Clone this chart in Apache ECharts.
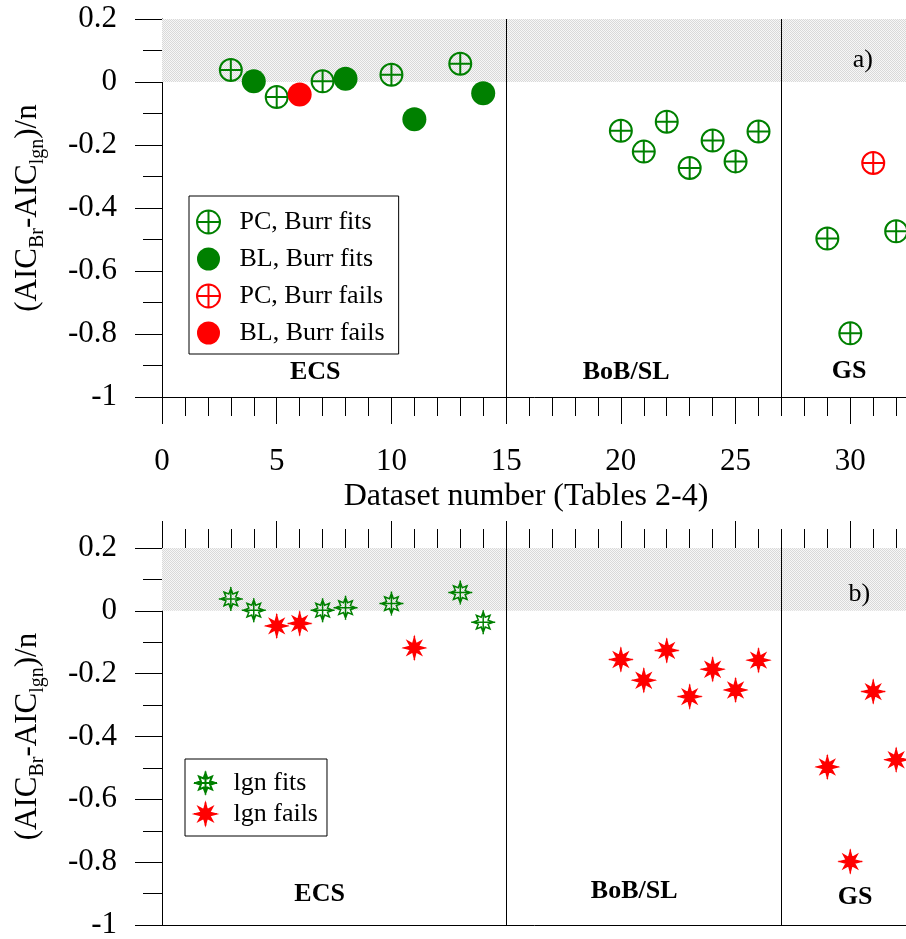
<!DOCTYPE html>
<html>
<head>
<meta charset="utf-8">
<script src="https://cdn.jsdelivr.net/npm/echarts@6/dist/echarts.min.js"></script>
<style>
  html, body { margin: 0; padding: 0; background: #fff; }
  #chart { width: 906px; height: 939px; }
</style>
</head>
<body>
<div id="chart"></div>
<script>
// Dataset numbers (Tables 2-4)
const datasetNumbers = [3, 4, 5, 6, 7, 8, 10, 11, 13, 14, 20, 21, 22, 23, 24, 25, 26, 29, 30, 31, 32];
// (AIC_Br - AIC_lgn)/n for each dataset
const aicDiff = [0.038, 0.002, -0.048, -0.040, 0.002, 0.010, 0.023, -0.118, 0.058, -0.036,
                 -0.155, -0.221, -0.126, -0.273, -0.186, -0.252, -0.157,
                 -0.497, -0.798, -0.257, -0.474];
// Sampling type of each dataset
const method = ['PC', 'BL', 'PC', 'BL', 'PC', 'BL', 'PC', 'BL', 'PC', 'BL',
                'PC', 'PC', 'PC', 'PC', 'PC', 'PC', 'PC',
                'PC', 'PC', 'PC', 'PC'];
// 1 = Burr fit accepted, 0 = Burr fit rejected
const burrFits = [1, 1, 1, 0, 1, 1, 1, 1, 1, 1,
                  1, 1, 1, 1, 1, 1, 1,
                  1, 1, 0, 1];
// 1 = lgn fit accepted, 0 = lgn fit rejected
const lgnFits = [1, 1, 0, 0, 1, 1, 1, 0, 1, 1,
                 0, 0, 0, 0, 0, 0, 0,
                 0, 0, 0, 0];
// Regions and the dataset numbers separating them
const regionNames = ['ECS', 'BoB/SL', 'GS'];
const regionBounds = [15, 27];
const panelTags = ['a)', 'b)'];
// Axis ranges and tick steps
const xMin = 0, xMax = 35, xStep = 5;
const yMin = -1, yMax = 0.2, yStep = 0.2;
const xTitle = 'Dataset number (Tables 2-4)';

const SERIF = 'Liberation Serif';
const GREEN = '#008000';
const RED = '#ff0000';

const pick = (test) => datasetNumbers
  .map((x, i) => test(i) ? [x, aicDiff[i]] : null)
  .filter(Boolean);

// Marker shapes
const crossCircle = 'path://M0,-10A10,10,0,1,1,0,10A10,10,0,1,1,0,-10ZM-10,0L10,0M0,-10L0,10';
function starPath(inner) {
  let d = '';
  for (let k = 0; k < 16; k++) {
    const a = k * Math.PI / 8 - Math.PI / 2;
    const r = k % 2 === 1 ? inner : (k % 4 === 0 ? 8.6 : 8.0);
    d += (k === 0 ? 'M' : 'L') + (r * Math.cos(a)).toFixed(2) + ',' + (r * Math.sin(a)).toFixed(2);
  }
  return 'path://' + d + 'ZM-10,0L10,0M0,-10L0,10';
}
const hollowStar = starPath(4.4);
const solidStar = starPath(3.6);

// Light stippled fill for the positive band
function stipple() {
  const c = document.createElement('canvas');
  c.width = 2; c.height = 2;
  const g = c.getContext('2d');
  g.fillStyle = '#f7f7f7'; g.fillRect(0, 0, 2, 2);
  g.fillStyle = '#d9d9d9'; g.fillRect(0, 0, 1, 1); g.fillRect(1, 1, 1, 1);
  return { image: c, repeat: 'repeat' };
}
const bandFill = stipple();

const yName = '{m|(AIC}{s|Br}{m|-AIC}{s|lgn}{m|)/n}';

function yAxisFor(gridIndex) {
  return {
    type: 'value', gridIndex, min: yMin, max: yMax, interval: yStep,
    name: yName, nameLocation: 'middle', nameRotate: 90, nameGap: 114,
    nameTextStyle: {
      color: '#000', fontFamily: SERIF,
      rich: {
        m: { fontFamily: SERIF, fontSize: 31, lineHeight: 40, color: '#000' },
        s: { fontFamily: SERIF, fontSize: 20, lineHeight: 12, verticalAlign: 'bottom', color: '#000' }
      }
    },
    axisLine: { show: true, lineStyle: { color: '#000', width: 1 } },
    axisTick: { show: true, inside: false, length: 27, lineStyle: { color: '#000' } },
    minorTick: { show: true, splitNumber: 2, length: 19, lineStyle: { color: '#000' } },
    axisLabel: { margin: 45, color: '#000', fontFamily: SERIF, fontSize: 31 },
    splitLine: { show: false }, minorSplitLine: { show: false }
  };
}

function xAxisFor(gridIndex, position, ticks, labels) {
  return {
    type: 'value', gridIndex, position, min: xMin, max: xMax, interval: xStep,
    axisLine: { show: true, onZero: false, lineStyle: { color: '#000', width: 1 } },
    axisTick: { show: ticks, inside: false, length: 27, lineStyle: { color: '#000' } },
    minorTick: { show: ticks, splitNumber: 5, length: 19, lineStyle: { color: '#000' } },
    axisLabel: { show: labels, margin: 49, color: '#000', fontFamily: SERIF, fontSize: 31 },
    splitLine: { show: false }, minorSplitLine: { show: false }
  };
}

// Shaded band and region separators of one panel
function frameSeries(xi, yi) {
  return {
    type: 'scatter', xAxisIndex: xi, yAxisIndex: yi, silent: true, data: [], z: 1,
    markArea: {
      silent: true,
      itemStyle: { color: bandFill, opacity: 1 },
      data: [[{ yAxis: 0 }, { yAxis: yMax }]]
    },
    markLine: {
      silent: true, symbol: ['none', 'none'], animation: false,
      label: { show: false },
      lineStyle: { color: '#000', type: 'solid', width: 1, opacity: 1 },
      data: regionBounds.map(b => ({ xAxis: b }))
    }
  };
}

// Region names and panel tag of one panel
function textSeries(xi, yi, spots, tag, tagSpot) {
  return {
    type: 'scatter', xAxisIndex: xi, yAxisIndex: yi, silent: true, z: 5,
    symbolSize: 1, itemStyle: { color: 'rgba(0,0,0,0)', opacity: 1 },
    label: {
      show: true, position: 'inside', formatter: '{b}',
      fontFamily: SERIF, fontSize: 26, fontWeight: 'bold', color: '#000',
      textBorderWidth: 0, opacity: 1
    },
    data: regionNames.map((n, i) => ({ name: n, value: spots[i] }))
      .concat([{ name: tag, value: tagSpot, label: { fontWeight: 'normal', fontSize: 26 } }])
  };
}

function markerSeries(name, xi, yi, data, symbol, size, style) {
  return {
    name, type: 'scatter', xAxisIndex: xi, yAxisIndex: yi, z: 3,
    symbol, symbolSize: size, itemStyle: Object.assign({ opacity: 1 }, style), data,
    emphasis: { disabled: true }
  };
}

const legendText = {
  fontFamily: SERIF, fontSize: 26, color: '#000', lineHeight: 30
};

const option = {
  animation: false,
  backgroundColor: '#fff',
  grid: [
    { left: 162, top: 19, width: 803, height: 378, containLabel: false, outerBoundsMode: 'none' },
    { left: 162, top: 548, width: 803, height: 377, containLabel: false, outerBoundsMode: 'none' }
  ],
  xAxis: [
    xAxisFor(0, 'bottom', true, true),
    xAxisFor(0, 'top', false, false),
    xAxisFor(1, 'top', true, false),
    xAxisFor(1, 'bottom', false, false)
  ],
  yAxis: [yAxisFor(0), yAxisFor(1)],
  legend: [
    {
      orient: 'vertical', left: 189, top: 196, selectedMode: false,
      data: ['PC, Burr fits', 'BL, Burr fits', 'PC, Burr fails', 'BL, Burr fails'],
      itemWidth: 24, itemHeight: 23, itemGap: 7,
      padding: [11, 14, 6, 7],
      borderColor: '#000', borderWidth: 1, backgroundColor: '#fff',
      itemStyle: { opacity: 1 },
      textStyle: Object.assign({ padding: [0, 0, 0, 14] }, legendText)
    },
    {
      orient: 'vertical', left: 185, top: 759, selectedMode: false,
      data: ['lgn fits', 'lgn fails'],
      itemWidth: 24, itemHeight: 23, itemGap: 1,
      padding: [9, 9, 7, 8],
      borderColor: '#000', borderWidth: 1, backgroundColor: '#fff',
      itemStyle: { opacity: 1 },
      textStyle: Object.assign({ padding: [0, 0, 0, 11] }, legendText)
    }
  ],
  graphic: [{
    type: 'text', x: 526, y: 497, silent: true,
    style: {
      text: xTitle, fill: '#000', font: '32px "Liberation Serif"',
      textAlign: 'center', textVerticalAlign: 'middle'
    }
  }],
  series: [
    frameSeries(0, 0),
    markerSeries('PC, Burr fits', 0, 0, pick(i => method[i] === 'PC' && burrFits[i]), crossCircle, 22,
      { color: 'rgba(0,0,0,0)', borderColor: GREEN, borderWidth: 2 }),
    markerSeries('BL, Burr fits', 0, 0, pick(i => method[i] === 'BL' && burrFits[i]), 'circle', 24,
      { color: GREEN }),
    markerSeries('PC, Burr fails', 0, 0, pick(i => method[i] === 'PC' && !burrFits[i]), crossCircle, 22,
      { color: 'rgba(0,0,0,0)', borderColor: RED, borderWidth: 2 }),
    markerSeries('BL, Burr fails', 0, 0, pick(i => method[i] === 'BL' && !burrFits[i]), 'circle', 24,
      { color: RED }),
    textSeries(0, 0, [[6.68, -0.923], [20.23, -0.923], [29.95, -0.919]], panelTags[0], [30.55, 0.068]),

    frameSeries(2, 1),
    markerSeries('lgn fits', 2, 1, pick(i => lgnFits[i]), hollowStar, 24,
      { color: 'rgba(0,0,0,0)', borderColor: GREEN, borderWidth: 1.5 }),
    markerSeries('lgn fails', 2, 1, pick(i => !lgnFits[i]), solidStar, 24,
      { color: RED, borderColor: RED, borderWidth: 1.5 }),
    textSeries(2, 1, [[6.87, -0.901], [20.58, -0.894], [30.21, -0.913]], panelTags[1], [30.39, 0.054])
  ]
};

const chart = echarts.init(document.getElementById('chart'), null, { renderer: 'canvas' });
chart.setOption(option);
</script>
</body>
</html>
